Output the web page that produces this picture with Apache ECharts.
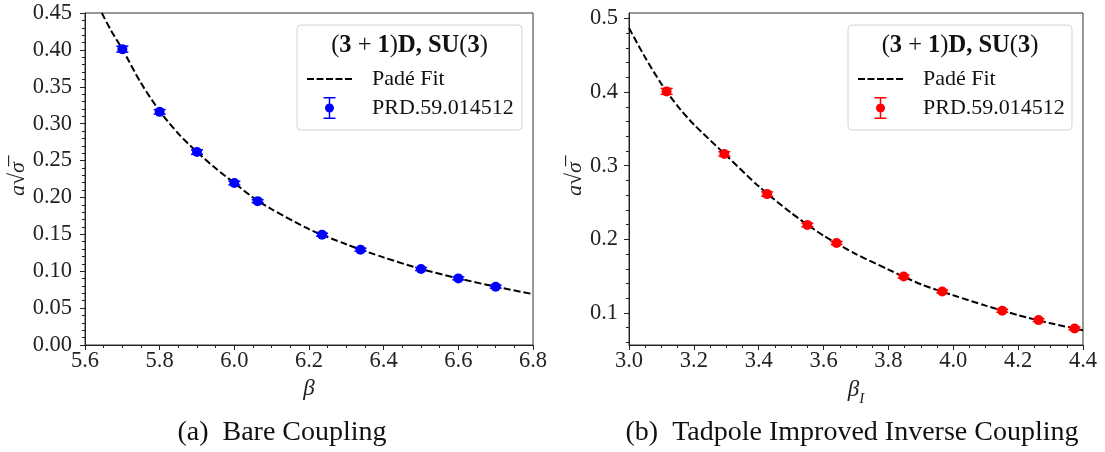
<!DOCTYPE html>
<html><head><meta charset="utf-8">
<script src="https://cdn.jsdelivr.net/npm/echarts@6/dist/echarts.min.js"></script>
<style>html,body{margin:0;padding:0;background:#fff}#c{width:1105px;height:452px}</style>
</head><body><div id="c"></div>
<script>
// ---- data ----
const bareBeta = [5.7, 5.8, 5.9, 6.0, 6.0625, 6.235, 6.338, 6.5, 6.6, 6.7];
const improvedBeta = [3.116, 3.294, 3.426, 3.550, 3.640, 3.847, 3.966, 4.151, 4.263, 4.374];
const aSqrtSigma = [0.401, 0.316, 0.2615, 0.2195, 0.195, 0.1495, 0.1292, 0.103, 0.0903, 0.079];
const aSqrtSigmaErr = [0.004, 0.003, 0.003, 0.0025, 0.002, 0.002, 0.002, 0.002, 0.002, 0.002];

const fitBareBeta = [5.645, 5.67, 5.7, 5.75, 5.8, 5.85, 5.9, 5.95, 6.0, 6.05, 6.1, 6.2, 6.3, 6.4, 6.5, 6.6, 6.7, 6.8];
const fitBareValue = [0.450, 0.426, 0.401, 0.355, 0.317, 0.2865, 0.2615, 0.2395, 0.2195, 0.200, 0.184, 0.157, 0.1365, 0.1187, 0.103, 0.0903, 0.079, 0.069];
const fitImprovedBeta = [3.0, 3.05, 3.1, 3.15, 3.2, 3.3, 3.4, 3.5, 3.6, 3.7, 3.8, 3.9, 4.0, 4.1, 4.2, 4.3, 4.4];
const fitImprovedValue = [0.487, 0.447, 0.411, 0.381, 0.356, 0.314, 0.272, 0.236, 0.205, 0.180, 0.159, 0.139, 0.124, 0.110, 0.097, 0.086, 0.0765];

const improvedYTicks = [0.1, 0.2, 0.3, 0.4, 0.5];
const improvedYMinorTicks = [0.06, 0.08, 0.12, 0.14, 0.16, 0.18, 0.22, 0.24, 0.26, 0.28, 0.32, 0.34, 0.36, 0.38, 0.42, 0.44, 0.46, 0.48];

const legendTitle = '{r|(}{b|3}{r| + }{b|1}{r|)}{b|D, SU}{r|(}{b|3}{r|)}';
const fitName = 'Padé Fit';
const dataName = 'PRD.59.014512';
const captions = ['(a)  Bare Coupling', '(b)  Tadpole Improved Inverse Coupling'];

// ---- styling ----
const FONT = 'Liberation Serif';
const axisCol = '#222';
const dashIcon = 'path://M0,0H7V2H0Z M9.5,0H16.5V2H9.5Z M19,0H26V2H19Z M28.5,0H35.5V2H28.5Z M38,0H45V2H38Z';
const errIcon = 'path://M0,0H12V1.5H0Z M5.25,0H6.75V22H5.25Z M0,20.5H12V22H0Z M1.5,11A4.5,4.5 0 1,1 10.5,11A4.5,4.5 0 1,1 1.5,11Z';

function xAxisCfg(grid, min, max, name) {
  return {
    type: 'value', gridIndex: grid, min: min, max: max, interval: 0.2,
    name: name, nameLocation: 'middle', nameGap: 28,
    nameTextStyle: {fontFamily: FONT, fontSize: 23, fontStyle: 'italic', color: '#222',
      rich: {b: {fontFamily: FONT, fontSize: 23, fontStyle: 'italic', color: '#222', lineHeight: 34, verticalAlign: 'middle'},
             s: {fontFamily: FONT, fontSize: 15, fontStyle: 'italic', color: '#222', verticalAlign: 'bottom'}}},
    axisLine: {show: true, onZero: false, lineStyle: {color: axisCol, width: 1}},
    axisTick: {show: true, length: 5, lineStyle: {color: axisCol}},
    minorTick: {show: true, splitNumber: 4, length: 3, lineStyle: {color: axisCol}},
    splitLine: {show: false}, minorSplitLine: {show: false},
    axisLabel: {fontFamily: FONT, fontSize: 22.5, color: '#222', margin: 5, formatter: v => v.toFixed(1)}
  };
}

const yNameStyle = {fontFamily: FONT, fontSize: 22, fontStyle: 'italic', color: '#222'};

function errorBars(xs, color, xi, yi) {
  return {
    type: 'custom', name: 'errorbars', xAxisIndex: xi, yAxisIndex: yi, silent: true, z: 3,
    data: xs.map((x, i) => [x, aSqrtSigma[i] - aSqrtSigmaErr[i], aSqrtSigma[i] + aSqrtSigmaErr[i]]),
    encode: {x: 0, y: [1, 2]},
    renderItem: function (params, api) {
      const x = api.value(0);
      const lo = api.coord([x, api.value(1)]);
      const hi = api.coord([x, api.value(2)]);
      const hw = 6;
      const st = {stroke: color, lineWidth: 1.5};
      return {type: 'group', children: [
        {type: 'line', shape: {x1: lo[0], y1: lo[1], x2: hi[0], y2: hi[1]}, style: st},
        {type: 'line', shape: {x1: lo[0] - hw, y1: lo[1], x2: lo[0] + hw, y2: lo[1]}, style: st},
        {type: 'line', shape: {x1: hi[0] - hw, y1: hi[1], x2: hi[0] + hw, y2: hi[1]}, style: st}
      ]};
    }
  };
}

function legendCfg(left, color) {
  return {
    left: left, top: 68, orient: 'vertical', padding: 0, z: 20,
    itemWidth: 45, itemHeight: 22, itemGap: 7, selectedMode: false,
    textStyle: {fontFamily: FONT, fontSize: 22, color: '#111', padding: [0, 0, 0, 15]},
    data: [
      {name: fitName, icon: dashIcon, itemStyle: {color: '#000'}},
      {name: dataName, icon: errIcon, itemStyle: {color: color}}
    ]
  };
}

function legendBox(x, w) {
  return [
    {type: 'rect', z: 10, shape: {x: x, y: 25, width: w, height: 105, r: 4},
     style: {fill: 'rgba(255,255,255,0.85)', stroke: '#d2d2d2', lineWidth: 1}},
    {type: 'text', z: 21, x: x + w / 2, y: 46,
     style: {text: legendTitle, align: 'center', verticalAlign: 'middle',
       rich: {b: {fontFamily: FONT, fontSize: 24.5, fontWeight: 'bold', fill: '#111'},
              r: {fontFamily: FONT, fontSize: 24.5, fill: '#111'}}}}
  ];
}

const option = {
  animation: false,
  backgroundColor: '#fff',
  title: [
    {text: captions[0], left: 282, top: 419, textAlign: 'center', padding: 0,
     textStyle: {fontFamily: FONT, fontSize: 28, fontWeight: 'normal', color: '#111'}},
    {text: captions[1], left: 852, top: 419, textAlign: 'center', padding: 0,
     textStyle: {fontFamily: FONT, fontSize: 28, fontWeight: 'normal', color: '#111'}}
  ],
  grid: [
    {left: 85, top: 13, width: 448, height: 332, show: true, borderColor: '#333', borderWidth: 1, backgroundColor: 'transparent'},
    {left: 629, top: 13, width: 454, height: 332, show: true, borderColor: '#333', borderWidth: 1, backgroundColor: 'transparent'},
    {left: 629, top: 13, width: 454, height: 332, show: false}
  ],
  xAxis: [
    xAxisCfg(0, 5.6, 6.8, 'β'),
    xAxisCfg(1, 3.0, 4.4, '{b|β}{s|I}'),
    {type: 'value', gridIndex: 2, min: 3.0, max: 4.4, show: false}
  ],
  yAxis: [
    {type: 'value', gridIndex: 0, min: 0, max: 0.45, interval: 0.05,
     name: 'a√σ̅', nameLocation: 'middle', nameGap: 49, nameTextStyle: yNameStyle,
     axisLine: {show: true, onZero: false, lineStyle: {color: axisCol, width: 1}},
     axisTick: {show: true, length: 5, lineStyle: {color: axisCol}},
     minorTick: {show: true, splitNumber: 5, length: 3, lineStyle: {color: axisCol}},
     splitLine: {show: false}, minorSplitLine: {show: false},
     axisLabel: {fontFamily: FONT, fontSize: 22.5, color: '#222', margin: 13, formatter: v => v.toFixed(2)}},
    {type: 'value', gridIndex: 1, min: 0.0565, max: 0.5075,
     name: 'a√σ̅', nameLocation: 'middle', nameGap: 37, nameTextStyle: yNameStyle,
     axisLine: {show: true, onZero: false, lineStyle: {color: axisCol, width: 1}},
     axisTick: {show: true, length: 5, lineStyle: {color: axisCol}, customValues: improvedYTicks},
     splitLine: {show: false},
     axisLabel: {fontFamily: FONT, fontSize: 22.5, color: '#222', margin: 11, customValues: improvedYTicks, formatter: v => v.toFixed(1)}},
    {type: 'value', gridIndex: 2, min: 0.0565, max: 0.5075,
     axisLine: {show: false}, splitLine: {show: false}, axisLabel: {show: false},
     axisTick: {show: true, length: 3, lineStyle: {color: axisCol}, customValues: improvedYMinorTicks}}
  ],
  legend: [legendCfg(307, '#0000ff'), legendCfg(858, '#ff0000')],
  graphic: {elements: legendBox(297, 225).concat(legendBox(848, 224))},
  series: [
    {type: 'line', name: fitName, xAxisIndex: 0, yAxisIndex: 0, showSymbol: false, symbol: 'none', smooth: 0.25, z: 2,
     itemStyle: {color: '#000'}, lineStyle: {color: '#000', width: 2, type: [7, 3]},
     data: fitBareBeta.map((x, i) => [x, fitBareValue[i]])},
    errorBars(bareBeta, '#0000ff', 0, 0),
    {type: 'scatter', name: dataName, xAxisIndex: 0, yAxisIndex: 0, symbolSize: 10, z: 4,
     itemStyle: {color: '#0000ff', opacity: 1},
     data: bareBeta.map((x, i) => [x, aSqrtSigma[i]])},
    {type: 'line', name: fitName, xAxisIndex: 1, yAxisIndex: 1, showSymbol: false, symbol: 'none', smooth: 0.25, z: 2,
     itemStyle: {color: '#000'}, lineStyle: {color: '#000', width: 2, type: [7, 3]},
     data: fitImprovedBeta.map((x, i) => [x, fitImprovedValue[i]])},
    errorBars(improvedBeta, '#ff0000', 1, 1),
    {type: 'scatter', name: dataName, xAxisIndex: 1, yAxisIndex: 1, symbolSize: 10, z: 4,
     itemStyle: {color: '#ff0000', opacity: 1},
     data: improvedBeta.map((x, i) => [x, aSqrtSigma[i]])}
  ]
};
const chart = echarts.init(document.getElementById('c'), null, {renderer: 'canvas'});
chart.setOption(option);
</script></body></html>
